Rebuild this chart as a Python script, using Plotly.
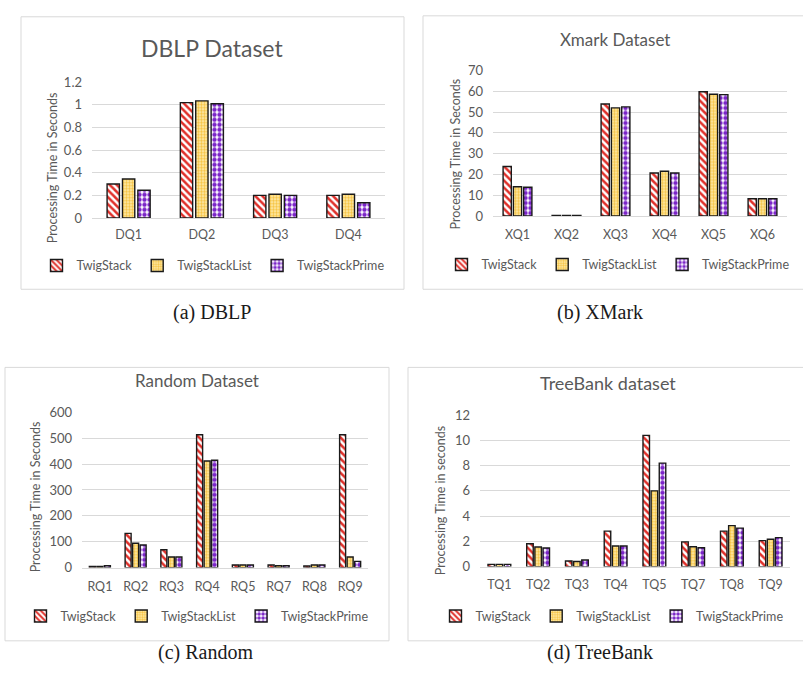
import plotly.graph_objects as go

W, H = 803, 683

series_names = ["TwigStack", "TwigStackList", "TwigStackPrime"]

dblp_queries = ["DQ1", "DQ2", "DQ3", "DQ4"]
dblp_twigstack = [0.30, 1.02, 0.20, 0.20]
dblp_list = [0.345, 1.035, 0.21, 0.21]
dblp_prime = [0.245, 1.01, 0.20, 0.135]

xmark_queries = ["XQ1", "XQ2", "XQ3", "XQ4", "XQ5", "XQ6"]
xmark_twigstack = [23.8, 0.3, 53.9, 20.7, 59.8, 8.3]
xmark_list = [14.1, 0.3, 52.0, 21.5, 58.6, 8.3]
xmark_prime = [13.8, 0.3, 52.5, 20.7, 58.4, 8.3]

random_queries = ["RQ1", "RQ2", "RQ3", "RQ4", "RQ5", "RQ7", "RQ8", "RQ9"]
random_twigstack = [4, 132, 69, 513, 10, 10, 6, 513]
random_list = [4, 94, 41, 412, 10, 7, 10, 41]
random_prime = [7, 87, 41, 415, 10, 7, 10, 24]

tree_queries = ["TQ1", "TQ2", "TQ3", "TQ4", "TQ5", "TQ7", "TQ8", "TQ9"]
tree_twigstack = [0.18, 1.81, 0.44, 2.81, 10.4, 1.96, 2.81, 2.06]
tree_list = [0.18, 1.55, 0.41, 1.63, 6.0, 1.57, 3.25, 2.17]
tree_prime = [0.18, 1.48, 0.52, 1.63, 8.2, 1.50, 3.05, 2.30]


def fx(px):
    return px / W


def fy(py):
    return 1 - py / H


FONT = "Lato, 'Open Sans', sans-serif"
GRAY = "#595959"
GRID = "#D9D9D9"

styles = [
    dict(color="white", pattern=dict(shape="\\", fgcolor="#E0302A", bgcolor="white",
                                     size=5, solidity=0.5, fillmode="replace")),
    dict(color="#FFE8A3", pattern=dict(shape=".", fgcolor="#F6C343", bgcolor="#FFEDB0",
                                       size=3, solidity=0.5, fillmode="replace")),
    dict(color="white", pattern=dict(shape=".", fgcolor="#7B25C8", bgcolor="white",
                                     size=5, solidity=0.6, fillmode="replace")),
]

panels = [
    dict(cats=dblp_queries, vals=[dblp_twigstack, dblp_list, dblp_prime],
         title="DBLP Dataset", tsize=23, tx=212, ty=41,
         box=(21, 9, 404, 288), plot=(92, 76, 385, 215), rng=[0, 1.2], dtick=0.2,
         ytitle="Processing Time in Seconds", ytx=52, yty=163, xlab_y=232,
         leg_x=213, leg_y=264, caption="(a) DBLP", cap_x=212, cap_y=312),
    dict(cats=xmark_queries, vals=[xmark_twigstack, xmark_list, xmark_prime],
         title="Xmark Dataset", tsize=17, tx=615, ty=32,
         box=(423, 8, 806, 288), plot=(493, 64, 787, 213), rng=[0, 70], dtick=10,
         ytitle="Processing Time in Seconds", ytx=455, yty=150, xlab_y=232,
         leg_x=618, leg_y=263, caption="(b) XMark", cap_x=600, cap_y=312),
    dict(cats=random_queries, vals=[random_twigstack, random_list, random_prime],
         title="Random Dataset", tsize=17, tx=197, ty=381,
         box=(5, 368, 389, 648), plot=(82, 414, 368, 573), rng=[0, 600], dtick=100,
         ytitle="Processing Time in Seconds", ytx=35, yty=501, xlab_y=592,
         leg_x=197, leg_y=623, caption="(c) Random", cap_x=205, cap_y=660),
    dict(cats=tree_queries, vals=[tree_twigstack, tree_list, tree_prime],
         title="TreeBank dataset", tsize=18, tx=608, ty=384,
         box=(408, 368, 806, 648), plot=(480, 417, 790, 572), rng=[0, 12], dtick=2,
         ytitle="Processing Time in seconds", ytx=440, yty=505, xlab_y=590,
         leg_x=612, leg_y=623, caption="(d) TreeBank", cap_x=600, cap_y=660),
]

fig = go.Figure()
shapes = []
annotations = []
layout = {}

for i, p in enumerate(panels):
    n = "" if i == 0 else str(i + 1)
    xa, ya = "x" + n, "y" + n
    leg = "legend" + n
    for s, (name, vals) in enumerate(zip(series_names, p["vals"])):
        st = styles[s]
        fig.add_trace(go.Bar(
            x=p["cats"], y=vals, name=name, xaxis=xa, yaxis=ya, legend=leg,
            marker=dict(color=st["color"], pattern=st["pattern"],
                        line=dict(color="#1A1A1A", width=1.4)),
            hoverinfo="x+y+name",
        ))
    x0, y0, x1, y1 = p["plot"]
    layout["xaxis" + n] = dict(
        domain=[fx(x0), fx(x1)], anchor=ya, showgrid=False, showline=True,
        linecolor=GRID, linewidth=1, ticks="", zeroline=False,
        ticklabelstandoff=p["xlab_y"] - y1 - 12,
        tickfont=dict(family=FONT, size=12.5, color=GRAY), fixedrange=True,
    )
    layout["yaxis" + n] = dict(
        domain=[fy(y1), fy(y0)], anchor=xa, range=p["rng"], dtick=p["dtick"],
        showgrid=True, gridcolor=GRID, gridwidth=1, zeroline=False, showline=False,
        ticks="", ticklabelstandoff=9,
        tickfont=dict(family=FONT, size=13, color=GRAY), fixedrange=True,
    )
    layout[leg] = dict(
        orientation="h", x=fx(p["leg_x"]), y=fy(p["leg_y"]), xanchor="center",
        yanchor="middle", font=dict(family=FONT, size=12.5, color=GRAY),
        bgcolor="rgba(0,0,0,0)", itemwidth=30, tracegroupgap=0,
    )
    bx0, by0, bx1, by1 = p["box"]
    shapes.append(dict(type="rect", xref="paper", yref="paper",
                       x0=fx(bx0), x1=fx(bx1), y0=fy(by1), y1=fy(by0),
                       line=dict(color="#D9D9D9", width=1), fillcolor="rgba(0,0,0,0)"))
    annotations.append(dict(text=p["title"], xref="paper", yref="paper",
                            x=fx(p["tx"]), y=fy(p["ty"]), xanchor="center", yanchor="middle",
                            showarrow=False, font=dict(family=FONT, size=p["tsize"], color=GRAY)))
    annotations.append(dict(text=p["ytitle"], xref="paper", yref="paper", textangle=-90,
                            x=fx(p["ytx"]), y=fy(p["yty"]), xanchor="center",
                            yanchor="middle", showarrow=False,
                            font=dict(family=FONT, size=12.5, color=GRAY)))
    annotations.append(dict(text=p["caption"], xref="paper", yref="paper",
                            x=fx(p["cap_x"]), y=fy(p["cap_y"]), xanchor="center",
                            yanchor="middle", showarrow=False,
                            font=dict(family="'Liberation Serif', 'Times New Roman', serif",
                                      size=20, color="#1A1A1A")))

fig.update_layout(
    width=W, height=H, margin=dict(l=0, r=0, t=0, b=0),
    paper_bgcolor="white", plot_bgcolor="white",
    barmode="group", bargap=0.37, bargroupgap=0.2,
    shapes=shapes, annotations=annotations, **layout,
)

fig.write_html("out.html", config=dict(displayModeBar=False))
